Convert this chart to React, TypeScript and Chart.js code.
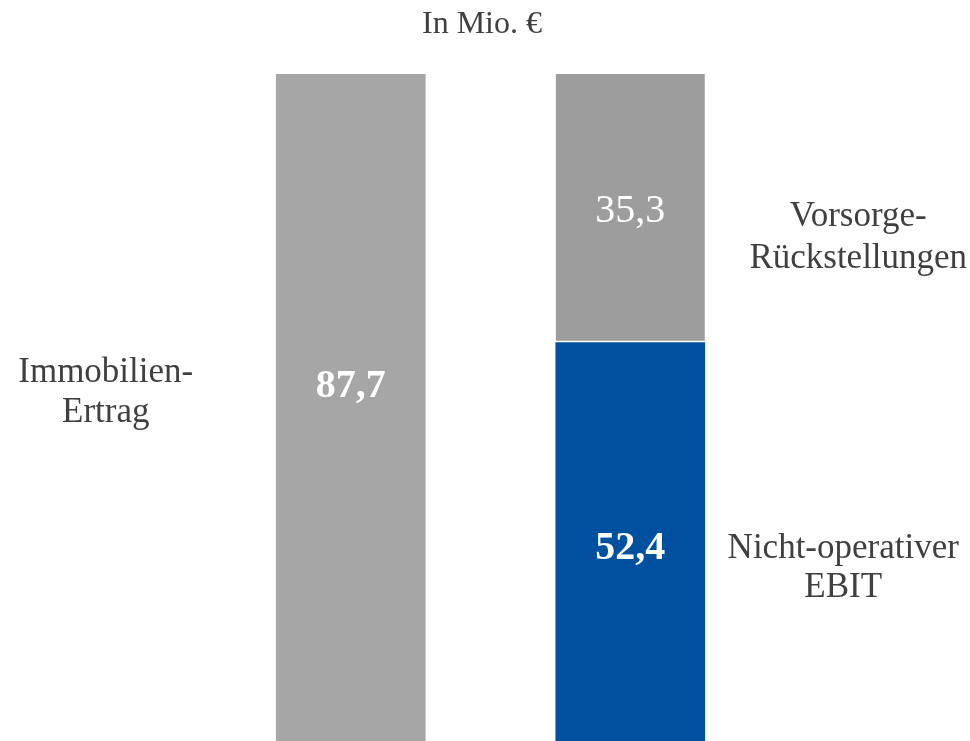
import React, { useEffect, useRef } from "react";
import { Chart, registerables } from "chart.js";

Chart.register(...registerables);

const categories = ["Immobilien-Ertrag", "Aufteilung"];
const immobilienErtrag = [87.7, null];
const nichtOperativerEbit = [null, 52.4];
const vorsorgeRueckstellungen = [null, 35.3];
const valueLabels = ["87,7", "52,4", "35,3"];
const title = "In Mio. €";

const FONT = "'Liberation Serif', 'Times New Roman', serif";

const labelPlugin = {
  id: "labels",
  afterDatasetsDraw(chart: any) {
    const ctx = chart.ctx;
    const left = chart.getDatasetMeta(0).data[0];
    const blue = chart.getDatasetMeta(1).data[1];
    const grey = chart.getDatasetMeta(2).data[1];
    ctx.save();
    ctx.textAlign = "center";
    ctx.textBaseline = "middle";
    ctx.fillStyle = "#ffffff";
    ctx.font = `bold 40px ${FONT}`;
    ctx.fillText(valueLabels[0], left.x, 387);
    ctx.fillText(valueLabels[1], blue.x, 549);
    ctx.font = `40px ${FONT}`;
    ctx.fillText(valueLabels[2], grey.x, 211);

    ctx.fillStyle = "#404040";
    ctx.font = `35px ${FONT}`;
    ctx.fillText("Immobilien-", left.x - 245, 373);
    ctx.fillText("Ertrag", left.x - 245, 413);
    ctx.fillText("Vorsorge-", grey.x + 228, 217);
    ctx.fillText("Rückstellungen", grey.x + 228, 259);
    ctx.fillText("Nicht-operativer", blue.x + 213, 549);
    ctx.fillText("EBIT", blue.x + 213, 588);

    ctx.font = `32px ${FONT}`;
    ctx.fillText(title, 482, 25);
    ctx.restore();
  },
};

export default function App() {
  const ref = useRef<HTMLCanvasElement>(null);
  useEffect(() => {
    document.body.style.margin = "0";
    const chart = new Chart(ref.current!, {
      type: "bar",
      data: {
        labels: categories,
        datasets: [
          {
            label: "Immobilien-Ertrag",
            data: immobilienErtrag as any,
            backgroundColor: "#a6a6a6",
            borderWidth: 0,
            barThickness: 149,
          },
          {
            label: "Nicht-operativer EBIT",
            data: nichtOperativerEbit as any,
            backgroundColor: "#0050a0",
            borderWidth: 0,
            barThickness: 149,
          },
          {
            label: "Vorsorge-Rückstellungen",
            data: vorsorgeRueckstellungen as any,
            backgroundColor: "#9d9d9d",
            borderColor: "#ffffff",
            borderWidth: { top: 0, left: 0, right: 0, bottom: 2 },
            borderSkipped: false,
            barThickness: 149,
          },
        ],
      },
      options: {
        animation: false,
        responsive: false,
        maintainAspectRatio: false,
        layout: { padding: { left: 211, right: 200, top: 74, bottom: 0 } },
        plugins: { legend: { display: false }, tooltip: { enabled: false }, title: { display: false } },
        scales: {
          x: { stacked: true, display: false },
          y: { stacked: true, display: false, min: 0, max: 87.7 },
        },
      },
      plugins: [labelPlugin],
    });
    return () => chart.destroy();
  }, []);
  return (
    <div style={{ position: "absolute", left: 0, top: 0, width: 970, height: 741, background: "#fff" }}>
      <canvas ref={ref} width={970} height={741} style={{ width: 970, height: 741 }} />
    </div>
  );
}
